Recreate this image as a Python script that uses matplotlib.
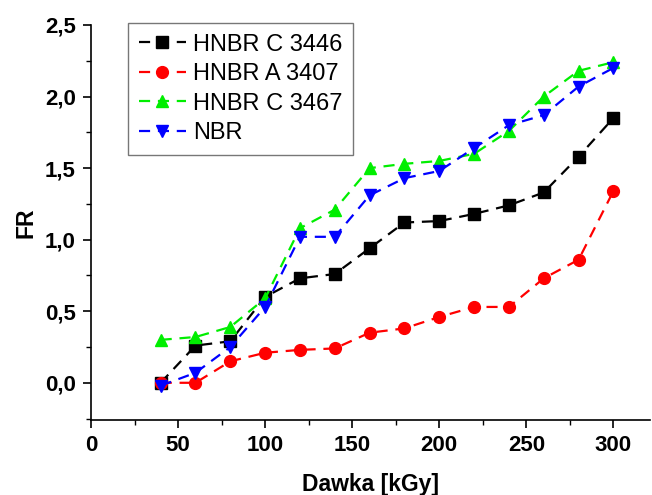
import matplotlib.pyplot as plt
from matplotlib.ticker import MultipleLocator, FuncFormatter

plt.rcParams['font.family'] = ['Liberation Sans', 'DejaVu Sans']

dose = [40, 60, 80, 100, 120, 140, 160, 180, 200, 220, 240, 260, 280, 300]

hnbr_c3446 = [0.00, 0.26, 0.29, 0.60, 0.73, 0.76, 0.94, 1.12, 1.13, 1.18, 1.24, 1.33, 1.58, 1.85]
hnbr_a3407 = [0.00, 0.00, 0.15, 0.21, 0.23, 0.24, 0.35, 0.38, 0.46, 0.53, 0.53, 0.73, 0.86, 1.34]
hnbr_c3467 = [0.30, 0.32, 0.39, 0.59, 1.08, 1.21, 1.50, 1.53, 1.55, 1.60, 1.76, 2.00, 2.18, 2.24]
nbr = [-0.02, 0.07, 0.25, 0.53, 1.02, 1.02, 1.31, 1.43, 1.48, 1.64, 1.80, 1.87, 2.07, 2.20]

series = [
    ('HNBR C 3446', hnbr_c3446, 'black', 's'),
    ('HNBR A 3407', hnbr_a3407, '#ff0000', 'o'),
    ('HNBR C 3467', hnbr_c3467, '#00ee00', '^'),
    ('NBR', nbr, '#0000ff', 'v'),
]

fig = plt.figure(figsize=(6.52, 4.95), dpi=100)
ax = fig.add_axes([91 / 652, (495 - 420) / 495, (650 - 91) / 652, (420 - 25) / 495])

for label, vals, col, mk in series:
    ax.plot(dose, vals, color=col, marker=mk, markersize=8.5, linestyle=(0, (5, 3.5)),
            linewidth=1.6, label=label, clip_on=False)

ax.set_xlim(0, 321)
ax.set_ylim(-0.26, 2.5)

ax.xaxis.set_major_locator(MultipleLocator(50))
ax.xaxis.set_minor_locator(MultipleLocator(25))
ax.yaxis.set_major_locator(MultipleLocator(0.5))
ax.yaxis.set_minor_locator(MultipleLocator(0.25))
ax.yaxis.set_major_formatter(FuncFormatter(lambda v, p: f'{v:.1f}'.replace('.', ',')))

ax.spines['top'].set_visible(False)
ax.spines['right'].set_visible(False)
for s in ('left', 'bottom'):
    ax.spines[s].set_linewidth(1.2)

ax.tick_params(which='major', direction='out', length=6, width=1.2, labelsize=16, pad=5)
ax.tick_params(which='minor', direction='out', length=3.5, width=1.0)
for lab in ax.get_xticklabels() + ax.get_yticklabels():
    lab.set_fontweight('bold')

ax.set_xlabel('Dawka [kGy]', fontsize=16.5, fontweight='bold', labelpad=12)
ax.set_ylabel('FR', fontsize=16.5, fontweight='bold', labelpad=5)

leg = ax.legend(loc='upper left', bbox_to_anchor=(0.066, 1.005), fontsize=17,
                fancybox=False, framealpha=1, edgecolor='#777777',
                handlelength=2.0, handletextpad=0.3, borderpad=0.45,
                labelspacing=0.32, borderaxespad=0)
leg.get_frame().set_linewidth(1.0)

fig.savefig('out.png', dpi=100)
